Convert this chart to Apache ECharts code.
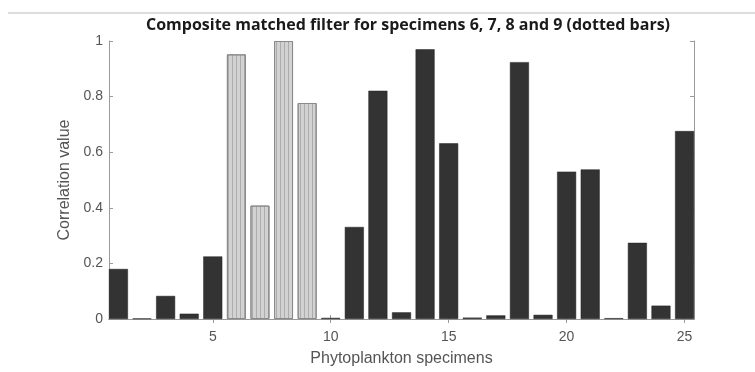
<!DOCTYPE html>
<html>
<head>
<meta charset="utf-8">
<script src="https://cdn.jsdelivr.net/npm/echarts@6/dist/echarts.min.js"></script>
<style>html,body{margin:0;padding:0;background:#fff}#c{width:755px;height:372px}</style>
</head>
<body>
<div id="c"></div>
<script>
const specimens = [1,2,3,4,5,6,7,8,9,10,11,12,13,14,15,16,17,18,19,20,21,22,23,24,25];
const correlation = [0.180,0.002,0.083,0.019,0.225,0.952,0.408,1.000,0.777,0.004,0.331,0.821,0.024,0.970,0.632,0.005,0.013,0.924,0.015,0.530,0.538,0.003,0.274,0.048,0.676];
const dottedSpecimens = [6,7,8,9];
const xTickLabels = [5,10,15,20,25];
const yTickLabels = [0,0.2,0.4,0.6,0.8,1];

const solidData = [], dottedData = [];
specimens.forEach((s,i)=>{
  if (dottedSpecimens.includes(s)) dottedData.push([s, correlation[i]]);
  else solidData.push([s, correlation[i]]);
});

const chart = echarts.init(document.getElementById('c'), null, {renderer:'canvas'});
const axisCol = '#9a9a9a';
const labelStyle = {color:'#555', fontFamily:'Liberation Sans, Arial, sans-serif', fontSize:14};
chart.setOption({
  animation:false,
  backgroundColor:'#fff',
  title:{
    text:'Composite matched filter for specimens 6, 7, 8 and 9 (dotted bars)',
    left:403, top:12, textAlign:'center',
    textStyle:{fontFamily:'Open Sans', fontWeight:'bold', fontSize:16, color:'#1a1a1a'}
  },
  graphic:[{type:'line', shape:{x1:8,y1:13,x2:755,y2:13}, style:{stroke:'#bbb', lineWidth:1}}],
  grid:{left:109, right:61, top:41, bottom:51},
  xAxis:[{
    type:'value', min:0.6, max:25.4,
    name:'Phytoplankton specimens', nameLocation:'middle', nameGap:32,
    nameTextStyle:{color:'#555', fontFamily:'Liberation Sans, Arial, sans-serif', fontSize:16},
    axisLine:{show:true, onZero:false, lineStyle:{color:axisCol}},
    axisTick:{show:true, inside:true, length:4, customValues:xTickLabels, lineStyle:{color:axisCol}},
    axisLabel:Object.assign({customValues:xTickLabels, margin:11}, labelStyle),
    splitLine:{show:false}
  },{
    type:'value', min:0.6, max:25.4, position:'top',
    axisLine:{show:true, lineStyle:{color:axisCol}},
    axisTick:{show:true, inside:true, length:4, customValues:xTickLabels, lineStyle:{color:axisCol}},
    axisLabel:{show:false}, splitLine:{show:false}
  }],
  yAxis:[{
    type:'value', min:0, max:1, interval:0.2,
    name:'Correlation value', nameLocation:'middle', nameGap:35, nameRotate:90,
    nameTextStyle:{color:'#555', fontFamily:'Liberation Sans, Arial, sans-serif', fontSize:16},
    axisLine:{show:true, lineStyle:{color:axisCol}},
    axisTick:{show:true, inside:true, length:4, lineStyle:{color:axisCol}},
    axisLabel:Object.assign({margin:6, formatter:v=>String(+v.toFixed(1))}, labelStyle),
    splitLine:{show:false}
  },{
    type:'value', min:0, max:1, interval:0.2, position:'right',
    axisLine:{show:true, lineStyle:{color:axisCol}},
    axisTick:{show:true, inside:true, length:4, lineStyle:{color:axisCol}},
    axisLabel:{show:false}, splitLine:{show:false}
  }],
  series:[{
    type:'bar', name:'other', data:solidData, barWidth:19, barGap:'-100%',
    itemStyle:{color:'#333333', borderColor:'#222', borderWidth:0.5}
  },{
    type:'bar', name:'dotted', data:dottedData, barWidth:19, barGap:'-100%',
    itemStyle:{color:'#d2d2d2', borderColor:'#8a8a8a', borderWidth:1,
      decal:{symbol:'rect', symbolSize:1, dashArrayX:[[1,3]], dashArrayY:[1,0], color:'rgba(140,140,140,0.55)', rotation:0}}
  }]
});
</script>
</body>
</html>
